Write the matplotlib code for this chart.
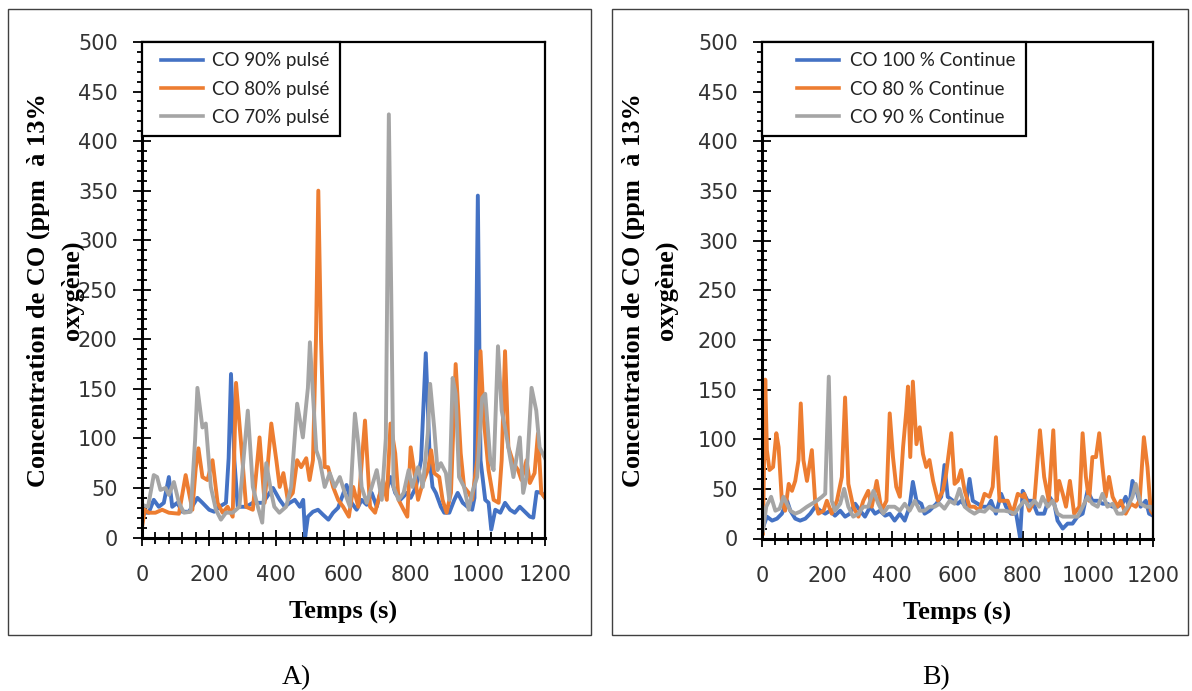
import matplotlib
matplotlib.use("Agg")
import matplotlib.pyplot as plt
from matplotlib.patches import Rectangle
from matplotlib.ticker import MultipleLocator

# ---------------- data ----------------
# Panel A (pulsé)
tA_90 = [0, 8, 20, 35, 50, 65, 80, 90, 105, 120, 140, 165, 180, 200, 215, 230, 250, 258, 265, 275, 285, 310, 330,
         360, 390, 410, 425, 440, 455, 470, 480, 486, 494, 509, 524, 539, 555, 569, 584, 600, 609, 624, 639, 654,
         669, 684, 699, 714, 729, 740, 754, 769, 789, 800, 816, 831, 845, 857, 865, 875, 890, 900, 915, 930, 940,
         955, 969, 983, 990, 1000, 1008, 1022, 1032, 1040, 1052, 1067, 1081, 1096, 1110, 1125, 1140, 1155, 1165,
         1175, 1190, 1200]
vA_90 = [30, 25, 25, 38, 31, 35, 61, 31, 35, 26, 26, 40, 35, 28, 26, 31, 35, 80, 165, 78, 31, 31, 35,
         35, 50, 38, 31, 35, 38, 31, 38, 1, 21, 26, 28, 23, 18, 25, 30, 45, 53, 35, 28, 38,
         33, 45, 31, 51, 48, 61, 45, 38, 45, 40, 51, 78, 186, 78, 51, 45, 31, 25, 25, 38, 45,
         35, 31, 28, 40, 345, 78, 38, 35, 8, 28, 25, 35, 28, 25, 31, 26, 21, 20,
         46, 45, 40]

tA_80 = [0, 8, 20, 40, 60, 80, 110, 130, 140, 150, 160, 168, 180, 195, 210, 225, 240, 255, 270, 280, 295, 310,
         330, 350, 365, 385, 400, 410, 421, 434, 449, 462, 474, 489, 499, 509, 518, 525, 533, 544, 554, 569, 584,
         599, 616, 629, 644, 664, 679, 694, 709, 718, 729, 740, 754, 764, 779, 790, 800, 810, 822, 836, 851, 861,
         870, 885, 895, 907, 920, 934, 949, 959, 973, 983, 998, 1008, 1018, 1032, 1047, 1062, 1071, 1081, 1091,
         1106, 1120, 1130, 1145, 1155, 1169, 1179, 1189, 1200]
vA_80 = [10, 28, 25, 25, 28, 25, 24, 63, 45, 28, 70, 90, 61, 58, 78, 35, 25, 31, 21, 156, 95, 31,
         28, 101, 35, 115, 78, 51, 65, 38, 45, 78, 71, 80, 58, 78, 200, 350, 200, 71, 71, 51, 38,
         31, 21, 51, 31, 118, 31, 25, 45, 58, 38, 115, 85, 38, 28, 21, 91, 68, 38, 55, 68, 88,
         65, 61, 38, 25, 45, 175, 85, 51, 45, 38, 78, 188, 118, 68, 38, 35, 78, 188, 91,
         75, 68, 58, 78, 55, 65, 105, 45, 40]

tA_70 = [0, 18, 35, 45, 55, 70, 80, 95, 110, 125, 145, 158, 165, 180, 190, 205, 220, 235, 250, 270, 290, 315,
         330, 345, 358, 370, 385, 394, 409, 429, 444, 462, 479, 494, 500, 508, 519, 529, 544, 559, 574, 589, 604,
         619, 634, 644, 654, 669, 684, 699, 714, 726, 735, 742, 749, 764, 779, 794, 805, 822, 836, 851, 858, 870,
         880, 890, 905, 915, 925, 934, 944, 959, 973, 983, 998, 1013, 1022, 1037, 1047, 1060, 1071, 1081, 1091,
         1106, 1125, 1135, 1145, 1160, 1174, 1184, 1200]
vA_70 = [33, 31, 63, 61, 48, 50, 43, 56, 35, 25, 26, 98, 151, 111, 115, 51, 28, 18, 25, 25, 31, 128,
         51, 31, 15, 75, 45, 31, 25, 31, 51, 135, 101, 151, 197, 150, 88, 78, 51, 65, 51, 61, 45,
         31, 125, 95, 51, 35, 51, 68, 38, 100, 427, 250, 51, 38, 45, 68, 51, 71, 51, 105, 155, 111,
         68, 75, 65, 38, 161, 145, 61, 51, 28, 45, 61, 141, 145, 78, 68, 193, 128, 111, 91,
         61, 101, 45, 61, 151, 128, 91, 80]

# Panel B (Continue)
tB_100 = [3, 15, 31, 46, 61, 77, 87, 102, 117, 133, 148, 163, 179, 194, 209, 224, 240, 255, 270, 286, 301, 316,
          332, 347, 362, 378, 392, 407, 423, 438, 453, 463, 474, 489, 499, 514, 535, 550, 560, 570, 586, 601, 611,
          625, 637, 647, 662, 678, 693, 703, 718, 734, 749, 764, 780, 792, 800, 815, 830, 845, 866, 882, 897, 907,
          923, 938, 953, 968, 984, 999, 1014, 1030, 1045, 1060, 1076, 1091, 1106, 1116, 1127, 1137, 1152, 1162,
          1178, 1188, 1200]
vB_100 = [11, 22, 18, 20, 25, 38, 28, 20, 18, 20, 25, 32, 28, 25, 28, 23, 28, 22, 25, 35, 28, 22,
          32, 25, 28, 23, 25, 18, 25, 18, 32, 57, 38, 35, 25, 28, 35, 42, 74, 42, 38, 35, 38,
          32, 60, 38, 35, 32, 32, 38, 25, 45, 32, 25, 25, 1, 48, 38, 38, 25, 25, 42, 35, 18,
          10, 15, 15, 22, 25, 48, 38, 38, 35, 35, 32, 32, 35, 42, 32, 58, 45, 32,
          38, 25, 23]

tB_80 = [3, 10, 15, 23, 34, 44, 51, 61, 71, 82, 92, 102, 112, 119, 127, 138, 153, 163, 173, 189, 199, 214, 230,
         245, 255, 265, 280, 296, 311, 326, 337, 352, 367, 382, 392, 402, 412, 423, 433, 443, 448, 455, 463, 474,
         484, 494, 504, 514, 525, 540, 555, 565, 581, 591, 601, 611, 622, 637, 652, 667, 683, 698, 708, 718, 729,
         739, 754, 769, 785, 800, 805, 820, 836, 853, 866, 880, 894, 904, 912, 923, 933, 945, 958, 974, 984, 994,
         1004, 1014, 1025, 1035, 1045, 1055, 1065, 1076, 1091, 1101, 1116, 1132, 1147, 1159, 1172, 1183, 1193, 1200]
vB_80 = [5, 160, 89, 69, 72, 106, 92, 38, 28, 55, 48, 58, 79, 136, 79, 58, 89, 38, 25, 28, 38, 25, 38,
         62, 142, 55, 32, 22, 38, 48, 32, 58, 28, 38, 126, 82, 52, 42, 92, 129, 153, 82, 158, 95,
         112, 85, 72, 79, 58, 38, 48, 65, 106, 55, 58, 69, 48, 32, 32, 28, 45, 42, 52, 102, 38,
         38, 38, 25, 45, 42, 45, 28, 38, 109, 62, 38, 109, 38, 58, 45, 32, 58, 25, 32, 106, 62,
         38, 82, 82, 106, 72, 42, 62, 42, 32, 38, 25, 35, 32, 38, 102, 72, 28, 25]

tB_90 = [3, 13, 28, 41, 54, 66, 87, 102, 117, 138, 153, 168, 184, 194, 205, 214, 224, 240, 252, 265, 280, 296,
         311, 326, 342, 357, 372, 387, 407, 423, 438, 453, 469, 484, 499, 514, 530, 545, 560, 576, 591, 606, 622,
         637, 652, 667, 683, 698, 713, 729, 744, 759, 775, 790, 805, 820, 836, 851, 861, 877, 892, 907, 923, 938,
         953, 968, 984, 999, 1014, 1030, 1045, 1060, 1076, 1091, 1106, 1122, 1137, 1147, 1162, 1178, 1193, 1200]
vB_90 = [8, 32, 42, 28, 30, 42, 28, 25, 27, 32, 35, 38, 42, 45, 163, 38, 28, 35, 50, 32, 22, 25,
         32, 32, 48, 35, 25, 32, 32, 28, 35, 28, 38, 28, 28, 32, 32, 35, 30, 38, 35, 50, 32,
         28, 25, 28, 27, 32, 28, 28, 28, 27, 25, 32, 38, 32, 38, 32, 42, 32, 38, 25, 22, 22,
         22, 22, 32, 42, 35, 32, 45, 32, 35, 25, 25, 32, 42, 55, 35, 32, 32, 28]

labels_A = ["CO 90% pulsé", "CO 80% pulsé", "CO 70% pulsé"]
labels_B = ["CO 100 % Continue", "CO 80 % Continue", "CO 90 % Continue"]
colors = ["#4472C4", "#ED7D31", "#A5A5A5"]
ylabel_text = "Concentration de CO (ppm  à 13%\noxygène)"
xlabel_text = "Temps (s)"

# ---------------- figure ----------------
W, H = 1192, 691
fig = plt.figure(figsize=(W / 100, H / 100), dpi=100)
fig.patch.set_facecolor("white")


def px_box(x0, y0, x1, y1):
    return [x0 / W, 1 - y1 / H, (x1 - x0) / W, (y1 - y0) / H]


# outer panel frames
for (x0, y0, x1, y1) in [(8, 9, 591, 635), (612, 9, 1188, 635)]:
    fig.add_artist(Rectangle((x0 / W, 1 - y1 / H), (x1 - x0) / W, (y1 - y0) / H,
                             transform=fig.transFigure, fill=False, ec="#404040", lw=1.0))

serif = "Liberation Serif"


def style_axes(ax, ylab_x):
    ax.set_xlim(0, 1200)
    ax.set_ylim(0, 500)
    ax.xaxis.set_major_locator(MultipleLocator(200))
    ax.xaxis.set_minor_locator(MultipleLocator(40))
    ax.yaxis.set_major_locator(MultipleLocator(50))
    ax.yaxis.set_minor_locator(MultipleLocator(10))
    ax.tick_params(axis="both", which="both", direction="inout", color="black", width=1.3,
                   top=False, right=False)
    ax.tick_params(axis="y", which="major", length=13, labelsize=15, pad=11)
    ax.tick_params(axis="y", which="minor", length=7)
    ax.tick_params(axis="x", which="major", length=11, labelsize=15, pad=14)
    ax.tick_params(axis="x", which="minor", length=8)
    for lab in ax.get_xticklabels() + ax.get_yticklabels():
        lab.set_fontfamily("DejaVu Sans")
        lab.set_color("#333333")
    for side in ["left", "bottom"]:
        ax.spines[side].set_linewidth(2.2)
    for side in ["right", "top"]:
        ax.spines[side].set_linewidth(1.6)
    for s in ax.spines.values():
        s.set_color("black")
    ax.set_xlabel(xlabel_text, fontfamily=serif, fontweight="bold", fontsize=19, labelpad=12)
    ax.set_ylabel(ylabel_text, fontfamily=serif, fontweight="bold", fontsize=19,
                  multialignment="center", linespacing=1.55)
    ax.yaxis.set_label_coords(ylab_x, 0.5)


def add_legend(ax, labels, offset_px, line_px, text_pad_px, fs=13.5):
    fs_px = fs * 100 / 72
    leg = ax.legend(labels, loc="upper left", bbox_to_anchor=(0, 1), borderaxespad=0,
                    prop={"family": "Lato", "size": fs}, frameon=True, fancybox=False,
                    framealpha=1, edgecolor="black", numpoints=2,
                    handlelength=(offset_px + line_px) / fs_px,
                    handletextpad=text_pad_px / fs_px, borderpad=0.55, labelspacing=0.6)
    leg.get_frame().set_linewidth(1.6)
    for t in leg.get_texts():
        t.set_color("#222222")
    off_pt = offset_px * 72 / 100
    for ln in leg.get_lines():
        x = list(ln.get_xdata())
        y = list(ln.get_ydata())
        ln.set_data([x[0] + off_pt, x[-1]], [y[0], y[-1]])
        ln.set_linewidth(2.6)
    return leg


# Panel A
axA = fig.add_axes(px_box(142, 42, 545, 537.5))
for t, v, c in zip([tA_90, tA_80, tA_70], [vA_90, vA_80, vA_70], colors):
    axA.plot(t, v, color=c, lw=2.8, solid_joinstyle="round")
style_axes(axA, -0.145)
add_legend(axA, labels_A, offset_px=3, line_px=53, text_pad_px=4)

# Panel B
axB = fig.add_axes(px_box(762, 42, 1153, 538.5))
for t, v, c in zip([tB_100, tB_80, tB_90], [vB_100, vB_80, vB_90], colors):
    axB.plot(t, v, color=c, lw=2.8, solid_joinstyle="round")
style_axes(axB, -0.215)
add_legend(axB, labels_B, offset_px=19, line_px=53, text_pad_px=6)

fig.text(296 / W, 1 - 678 / H, "A)", fontfamily=serif, fontsize=20, ha="center", va="center")
fig.text(936 / W, 1 - 678 / H, "B)", fontfamily=serif, fontsize=20, ha="center", va="center")

fig.savefig("out.png", dpi=100, facecolor="white")
